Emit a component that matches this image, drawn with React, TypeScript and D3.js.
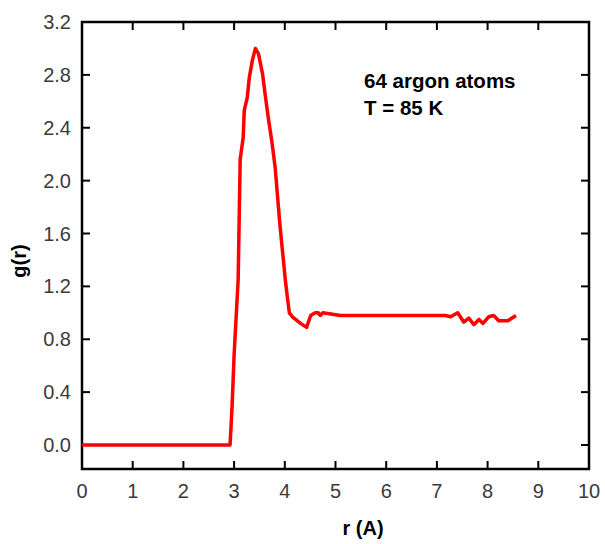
import React, { useEffect, useRef } from 'react';
import * as d3 from 'd3';

// g(r) for 64 argon atoms at 85 K
const rValues = [0, 2.92, 2.96, 3.0, 3.08, 3.12, 3.18, 3.2, 3.26, 3.3, 3.36, 3.42, 3.48, 3.56, 3.62, 3.68, 3.75, 3.81, 3.9, 4.01, 4.05, 4.09, 4.15, 4.31, 4.43, 4.51, 4.6, 4.66, 4.7, 4.75, 5.1, 7.17, 7.27, 7.41, 7.53, 7.63, 7.73, 7.83, 7.91, 8.02, 8.12, 8.22, 8.4, 8.56];
const gValues = [0, 0, 0.29, 0.68, 1.25, 2.16, 2.33, 2.53, 2.63, 2.78, 2.91, 3.0, 2.96, 2.81, 2.63, 2.46, 2.28, 2.1, 1.68, 1.25, 1.12, 1.0, 0.97, 0.92, 0.89, 0.98, 1.0, 1.0, 0.98, 1.0, 0.98, 0.98, 0.97, 1.0, 0.93, 0.96, 0.91, 0.95, 0.92, 0.97, 0.98, 0.94, 0.94, 0.98];

const xTicks = [0, 1, 2, 3, 4, 5, 6, 7, 8, 9, 10];
const yTicks = [0, 0.4, 0.8, 1.2, 1.6, 2.0, 2.4, 2.8, 3.2];
const annotation = ['64 argon atoms', 'T = 85 K'];

const App = () => {
  const svgRef = useRef<SVGSVGElement>(null);

  useEffect(() => {
    const svg = d3.select(svgRef.current);
    svg.selectAll('*').remove();

    const left = 82, right = 589, top = 22, bottom = 469;

    const x = d3.scaleLinear().domain([0, 10]).range([left, right]);
    const y = d3.scaleLinear().domain([0, 3.2]).range([445, top]);

    const font = 'Arial, "Liberation Sans", sans-serif';
    const tickLen = 8;

    // frame
    svg.append('rect')
      .attr('x', left).attr('y', top)
      .attr('width', right - left).attr('height', bottom - top)
      .attr('fill', 'none').attr('stroke', '#000').attr('stroke-width', 2.5);

    // ticks on all four sides, pointing inward
    xTicks.slice(1, -1).forEach(t => {
      svg.append('line').attr('x1', x(t)).attr('x2', x(t))
        .attr('y1', bottom).attr('y2', bottom - tickLen)
        .attr('stroke', '#000').attr('stroke-width', 2);
      svg.append('line').attr('x1', x(t)).attr('x2', x(t))
        .attr('y1', top).attr('y2', top + tickLen)
        .attr('stroke', '#000').attr('stroke-width', 2);
    });
    yTicks.filter(t => t < 3.2).forEach(t => {
      svg.append('line').attr('x1', left).attr('x2', left + tickLen)
        .attr('y1', y(t)).attr('y2', y(t))
        .attr('stroke', '#000').attr('stroke-width', 2);
      svg.append('line').attr('x1', right).attr('x2', right - tickLen)
        .attr('y1', y(t)).attr('y2', y(t))
        .attr('stroke', '#000').attr('stroke-width', 2);
    });

    // tick labels
    svg.append('g').selectAll('text').data(xTicks).join('text')
      .attr('x', d => x(d)).attr('y', 498)
      .attr('text-anchor', 'middle')
      .attr('font-family', font).attr('font-size', 20).attr('fill', '#3a3a3a')
      .text(d => String(d));

    svg.append('g').selectAll('text').data(yTicks).join('text')
      .attr('x', 71).attr('y', d => y(d) + 7)
      .attr('text-anchor', 'end')
      .attr('font-family', font).attr('font-size', 20).attr('fill', '#3a3a3a')
      .text(d => d.toFixed(1));

    // axis titles
    svg.append('text')
      .attr('x', 363).attr('y', 535)
      .attr('text-anchor', 'middle')
      .attr('font-family', font).attr('font-size', 20).attr('font-weight', 'bold')
      .text('r (A)');

    svg.append('text')
      .attr('transform', 'translate(26,261) rotate(-90)')
      .attr('text-anchor', 'middle')
      .attr('font-family', font).attr('font-size', 20).attr('font-weight', 'bold')
      .text('g(r)');

    // annotation
    svg.append('g').selectAll('text').data(annotation).join('text')
      .attr('x', 364).attr('y', (d, i) => 88 + i * 27)
      .attr('font-family', font).attr('font-size', 20.5).attr('font-weight', 'bold')
      .text(d => d);

    // curve
    const pts = rValues.map((r, i) => [r, gValues[i]] as [number, number]);
    const line = d3.line<[number, number]>()
      .x(d => x(d[0]))
      .y(d => y(d[1]));

    svg.append('path')
      .datum(pts)
      .attr('fill', 'none')
      .attr('stroke', '#ff0000')
      .attr('stroke-width', 3.5)
      .attr('stroke-linejoin', 'round')
      .attr('d', line);
  }, []);

  return (
    <svg ref={svgRef} width={605} height={544}
      style={{ position: 'absolute', left: 0, top: 0, background: '#fff' }} />
  );
};

export default App;
